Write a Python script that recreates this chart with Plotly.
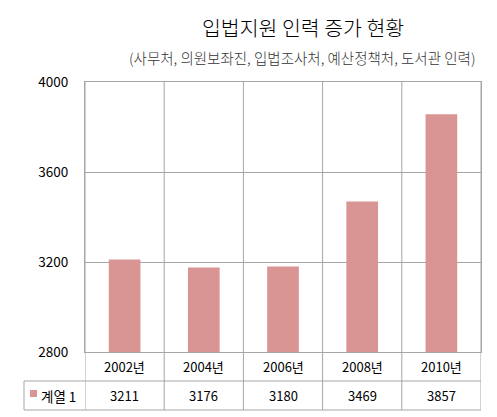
import plotly.graph_objects as go

categories = ["2002년", "2004년", "2006년", "2008년", "2010년"]
values = [3211, 3176, 3180, 3469, 3857]
series_name = "계열 1"
title_text = "입법지원 인력 증가 현황"
subtitle_text = "(사무처, 의원보좌진, 입법조사처, 예산정책처, 도서관 인력)"
y_ticks = [2800, 3200, 3600, 4000]

bar_color = "#D99594"
line_color = "#A6A6A6"
font_family = "Noto Sans CJK KR, Noto Sans, DejaVu Sans"

fig = go.Figure()
fig.add_trace(go.Bar(x=list(range(len(categories))), y=[v - 2800 for v in values], base=2800,
                     marker=dict(color=bar_color, line=dict(width=0)), width=0.4,
                     name=series_name, showlegend=False, hoverinfo="skip"))

# plot area: l=85, r=481, t=82, b=352 -> height 270, width 396
H = 270.0
W = 396.0
def yd(px_below):
    return -px_below / H

row1_mid = yd(14.5)
row1_bot = yd(29)
row2_mid = yd(43.5)
row2_bot = yd(58)
left_x = -61.0 / W

shapes = []
for yy in [row1_bot, row2_bot]:
    shapes.append(dict(type="line", xref="x domain", yref="y domain", x0=left_x, x1=1, y0=yy, y1=yy,
                       line=dict(color=line_color, width=1)))
n = len(categories)
for i in range(n + 1):
    b = i - 0.5
    shapes.append(dict(type="line", xref="x", yref="y domain", x0=b, x1=b, y0=row2_bot, y1=1,
                       line=dict(color=line_color, width=1)))
shapes.append(dict(type="line", xref="x domain", yref="y domain", x0=left_x, x1=left_x, y0=row2_bot, y1=row1_bot,
                   line=dict(color=line_color, width=1)))
shapes.append(dict(type="rect", xref="x domain", yref="y domain", x0=-55.0 / W, x1=-48.0 / W,
                   y0=yd(45), y1=yd(38), fillcolor=bar_color, line=dict(width=0)))

annotations = []
for i, c in enumerate(categories):
    annotations.append(dict(x=i, y=row1_mid, xref="x", yref="y domain", text=c, showarrow=False,
                            font=dict(size=13, color="#000000", family=font_family), yanchor="middle"))
for i, v in enumerate(values):
    annotations.append(dict(x=i, y=row2_mid, xref="x", yref="y domain", text=str(v), showarrow=False,
                            font=dict(size=13, color="#000000", family=font_family), yanchor="middle"))
annotations.append(dict(x=-46.0 / W, y=row2_mid, xref="x domain", yref="y domain", text=series_name,
                        showarrow=False, xanchor="left", yanchor="middle",
                        font=dict(size=13.5, color="#000000", family=font_family)))
annotations.append(dict(x=273.0 / 497, y=1 + 55.0 / H, xref="paper", yref="y domain", text=title_text,
                        showarrow=False, xanchor="center", yanchor="middle",
                        font=dict(size=20.5, color="#000000", family=font_family, weight=300)))
annotations.append(dict(x=272.0 / 497, y=1 + 25.0 / H, xref="paper", yref="y domain", text=subtitle_text,
                        showarrow=False, xanchor="center", yanchor="middle",
                        font=dict(size=14.5, color="#333333", family=font_family, weight=300)))

fig.update_layout(
    width=497, height=417,
    margin=dict(l=85, r=16, t=82, b=65),
    paper_bgcolor="white", plot_bgcolor="white",
    shapes=shapes, annotations=annotations,
    font=dict(family=font_family, size=13, color="#000000"),
    hovermode=False,
)
fig.update_xaxes(range=[-0.5, n - 0.5], showticklabels=False, showgrid=False, zeroline=False,
                 showline=True, mirror=True, linecolor=line_color, linewidth=1, ticks="")
fig.update_yaxes(range=[2800, 4000], tickvals=y_ticks, ticktext=[str(t) for t in y_ticks],
                 showgrid=True, gridcolor=line_color, gridwidth=1, zeroline=False,
                 showline=True, mirror=True, linecolor=line_color, linewidth=1, ticks="",
                 ticklabelstandoff=13, tickfont=dict(size=13.5, color="#000000", family=font_family))

fig.write_html("out.html", config={"displayModeBar": False},
               post_script="document.body.style.margin='0px';document.body.style.overflow='hidden';")
